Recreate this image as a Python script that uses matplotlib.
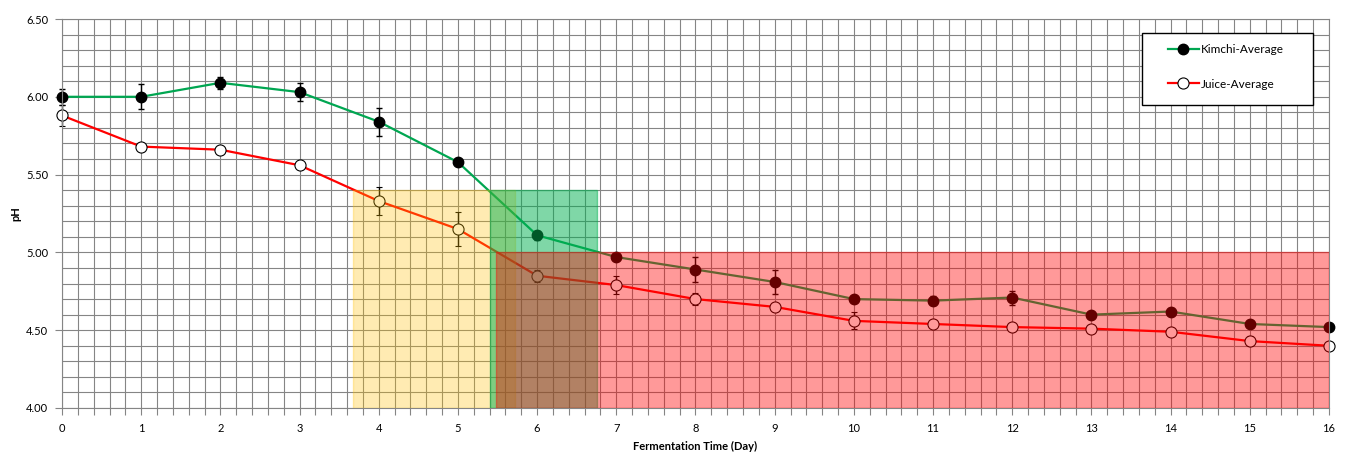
import numpy as np
import matplotlib
matplotlib.use('Agg')
import matplotlib.pyplot as plt
import matplotlib.patches as mpatches
from matplotlib.ticker import MultipleLocator, FormatStrFormatter

plt.rcParams['font.family'] = ['Lato', 'DejaVu Sans']

# ---------------------------------------------------------------------------
# Data
# ---------------------------------------------------------------------------
days = list(range(17))

kimchi_avg = [6.00, 6.00, 6.09, 6.03, 5.84, 5.58, 5.11, 4.97, 4.89, 4.81,
              4.70, 4.69, 4.71, 4.60, 4.62, 4.54, 4.52]
kimchi_err = [0.05, 0.08, 0.04, 0.06, 0.09, 0.01, 0.03, 0.01, 0.08, 0.08,
              0.02, 0.03, 0.045, 0.01, 0.02, 0.01, 0.01]

juice_avg = [5.88, 5.68, 5.66, 5.56, 5.33, 5.15, 4.85, 4.79, 4.70, 4.65,
             4.56, 4.54, 4.52, 4.51, 4.49, 4.43, 4.40]
juice_err = [0.065, 0.02, 0.01, 0.01, 0.09, 0.11, 0.04, 0.06, 0.04, 0.01,
             0.055, 0.02, 0.01, 0.02, 0.01, 0.03, 0.01]

# shaded phases: (day start, day end, pH low, pH high)
phase_yellow = (3.67, 5.72, 4.0, 5.4)
phase_green = (5.40, 6.75, 4.0, 5.4)
phase_red = (5.48, 16.0, 4.0, 5.0)

# ---------------------------------------------------------------------------
# Figure
# ---------------------------------------------------------------------------
W, H = 1364, 457
fig = plt.figure(figsize=(W / 100, H / 100), dpi=100)
ax = fig.add_axes([62 / W, 1 - 408 / H, (1329 - 62) / W, (408 - 19) / H])

green = '#00A651'
red = '#FF0000'
gridc = '#858585'

ax.plot(days, kimchi_avg, color=green, lw=1.6, zorder=2)
eb1 = ax.errorbar(days, kimchi_avg, yerr=kimchi_err, fmt='o', color='black',
                  ms=7.5, mfc='black', mec='black', ecolor='black',
                  elinewidth=1, capsize=2.5, capthick=1, zorder=2.2)

ax.plot(days, juice_avg, color=red, lw=1.6, zorder=2)
eb2 = ax.errorbar(days, juice_avg, yerr=juice_err, fmt='o', color='black',
                  ms=8, mfc='white', mec='black', mew=0.8, ecolor='black',
                  elinewidth=1, capsize=2.5, capthick=1, zorder=2.2)

# let the end markers overhang the plot edges, as in the original
for eb in (eb1, eb2):
    eb[0].set_clip_on(False)
    for art in eb[1] + eb[2]:
        art.set_clip_on(False)

# shaded boxes sit on top of the curves
for (x0, x1, y0, y1), fc, a in [(phase_yellow, '#FFC000', 0.3),
                                (phase_green, '#00B050', 0.5),
                                (phase_red, '#FF0000', 0.4)]:
    ax.add_patch(mpatches.Rectangle((x0, y0), x1 - x0, y1 - y0,
                                    facecolor=fc, edgecolor=fc, alpha=a,
                                    lw=1, zorder=3))

ax.set_xlim(0, 16)
ax.set_ylim(4.0, 6.5)
ax.xaxis.set_major_locator(MultipleLocator(1))
ax.xaxis.set_minor_locator(MultipleLocator(0.2))
ax.yaxis.set_major_locator(MultipleLocator(0.5))
ax.yaxis.set_minor_locator(MultipleLocator(0.1))
ax.yaxis.set_major_formatter(FormatStrFormatter('%.2f'))

ax.set_axisbelow(True)
ax.grid(True, which='both', color=gridc, lw=0.8)
for s in ax.spines.values():
    s.set_color(gridc)
    s.set_linewidth(0.8)

ax.tick_params(axis='x', which='both', direction='out', length=5,
               color=gridc, width=0.8, labelsize=8, pad=6)
ax.tick_params(axis='y', which='major', direction='out', length=5,
               color=gridc, width=0.8, labelsize=8, pad=5)
ax.tick_params(axis='y', which='minor', length=0)

ax.set_xlabel('Fermentation Time (Day)', fontsize=8, fontweight='bold',
              labelpad=5)
ax.set_ylabel('pH', fontsize=8, fontweight='bold', labelpad=3)

# legend box
box = mpatches.Rectangle((1142 / W, 1 - 105 / H), 171 / W, 72 / H,
                         transform=fig.transFigure, facecolor='white',
                         edgecolor='black', lw=1, zorder=4, clip_on=False)
ax.add_patch(box)

h1, = ax.plot([], [], color=green, lw=1.6, marker='o', ms=7.5,
              mfc='black', mec='black')
h2, = ax.plot([], [], color=red, lw=1.6, marker='o', ms=8,
              mfc='white', mec='black', mew=0.8)
leg = ax.legend([h1, h2], ['Kimchi-Average', 'Juice-Average'],
                loc='upper left', bbox_to_anchor=(1168 / W, 1 - 44 / H),
                bbox_transform=fig.transFigure, frameon=False, fontsize=8.5,
                handlelength=2.6, handletextpad=0.2, labelspacing=2.0,
                borderpad=0, borderaxespad=0)
leg.set_zorder(5)

fig.savefig('out.png', dpi=100)
